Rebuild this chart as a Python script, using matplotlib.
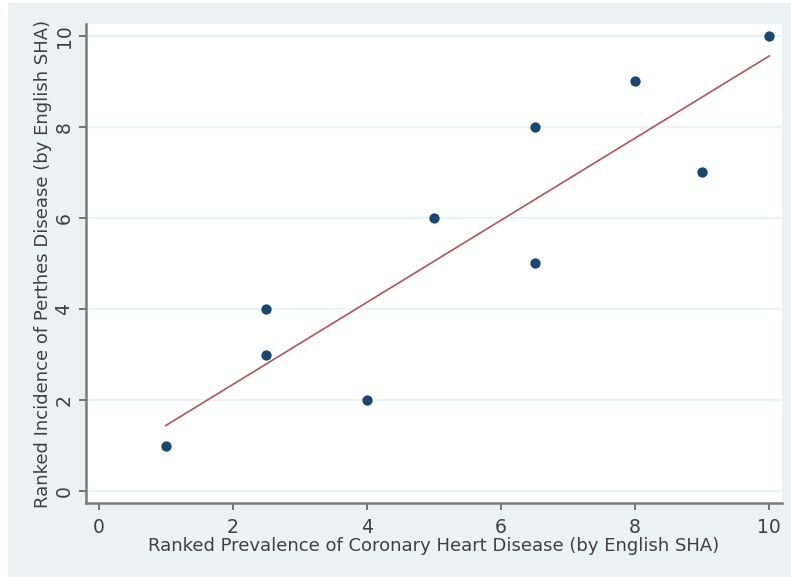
import matplotlib
matplotlib.use("Agg")
import matplotlib.pyplot as plt
import numpy as np
from matplotlib.patches import Rectangle

# ranked values per English SHA
chd_rank = [1, 2.5, 2.5, 4, 5, 6.5, 6.5, 8, 9, 10]
perthes_rank = [1, 3, 4, 2, 6, 5, 8, 9, 7, 10]
ticks = [0, 2, 4, 6, 8, 10]

bg = '#eaf2f3'
navy = '#1a476f'
maroon = '#b0555e'

fig = plt.figure(figsize=(7.91, 5.77), dpi=100, facecolor='white')
fig.patches.append(Rectangle((8 / 791, 0), 1, 1 - 3 / 577, transform=fig.transFigure,
                             facecolor=bg, edgecolor='none', zorder=-10))

ax = fig.add_axes([86 / 791, 74 / 577, 696 / 791, 479 / 577])
ax.set_facecolor('white')

# linear fit through the points
slope, icpt = np.polyfit(chd_rank, perthes_rank, 1)
xf = np.array([min(chd_rank), max(chd_rank)])
ax.plot(xf, icpt + slope * xf, color=maroon, lw=1.2, zorder=2)
ax.scatter(chd_rank, perthes_rank, s=55, color=navy, zorder=3, linewidths=0)

ax.set_xlim(-0.19, 10.19)
ax.set_ylim(-0.26, 10.26)
ax.set_xticks(ticks)
ax.set_yticks(ticks)
ax.set_yticklabels([str(t) for t in ticks], rotation=90, va='center')
ax.grid(axis='y', color=bg, lw=1.6, zorder=0)
ax.set_axisbelow(True)

for s in ['top', 'right']:
    ax.spines[s].set_visible(False)
for s in ['left', 'bottom']:
    ax.spines[s].set_color('#7a7a7a')
    ax.spines[s].set_linewidth(1.8)
ax.tick_params(colors='#6a6a6a', labelcolor='#404040', labelsize=13.5, width=1.3, length=5)
ax.tick_params(axis='x', pad=6)
ax.tick_params(axis='y', pad=4)

ax.set_xlabel('Ranked Prevalence of Coronary Heart Disease (by English SHA)',
              fontsize=13, color='#404040', labelpad=0)
ax.set_ylabel('Ranked Incidence of Perthes Disease (by English SHA)',
              fontsize=13, color='#404040', labelpad=2)

fig.savefig('out.png', dpi=100, facecolor=fig.get_facecolor())
